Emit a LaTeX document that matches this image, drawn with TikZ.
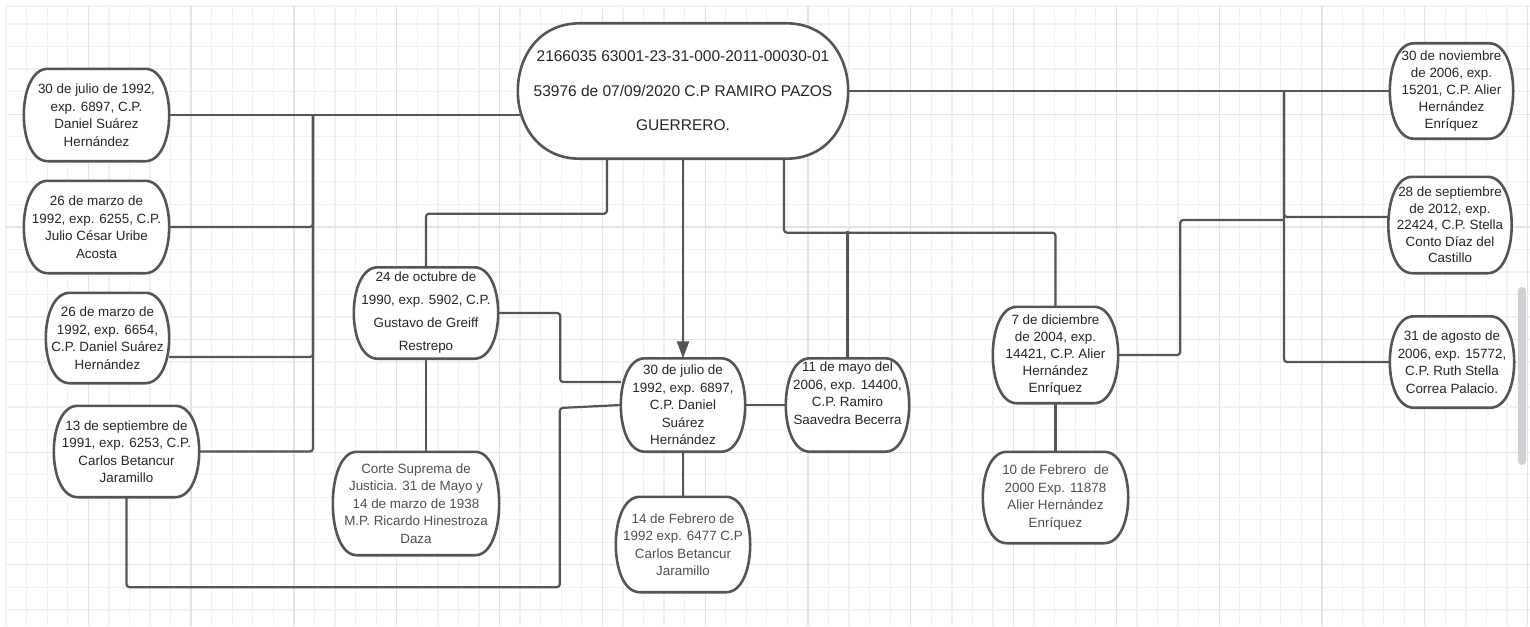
\documentclass[tikz,border=0pt]{standalone}
\usepackage{fontspec}
\setmainfont{Liberation Sans}
\usepackage{xcolor}
\usetikzlibrary{arrows.meta,calc}

\definecolor{inkline}{HTML}{555555}
\definecolor{inktext}{HTML}{262626}
\definecolor{inksoft}{HTML}{505050}
\definecolor{gridminor}{HTML}{F1F1F1}
\definecolor{gridmajor}{HTML}{E4E4E4}
\definecolor{scrollbar}{HTML}{CDD0D5}

\pgfdeclarelayer{grid}
\pgfdeclarelayer{edges}
\pgfdeclarelayer{cases}
\pgfsetlayers{grid,edges,cases,main}

% outline with half-elliptic ends: node name, end depth
\newcommand{\caseoutline}[2]{%
  \filldraw[outline] ($(#1.north west)+(#2,0)$) -- ($(#1.north east)+(-#2,0)$)
    .. controls ($(#1.north east)+(#2/3,0)$) and ($(#1.south east)+(#2/3,0)$) .. ($(#1.south east)+(-#2,0)$)
    -- ($(#1.south west)+(#2,0)$)
    .. controls ($(#1.south west)+(-#2/3,0)$) and ($(#1.north west)+(-#2/3,0)$) .. cycle;}

\begin{document}
\begin{tikzpicture}[x=1pt,y=-1pt,>={Triangle[length=17pt,width=12pt]},
  case/.style={inner sep=0pt,align=center,text=inktext,font=\fontsize{13.4}{17.5}\selectfont,minimum height=92pt},
  link/.style={draw=inkline,line width=2.2pt,rounded corners=3pt},
  outline/.style={fill=white,draw=inkline,line width=2.6pt},
  gridline/.style={draw=gridminor,line width=1.3pt}
]
  \useasboundingbox (0,0) rectangle (1530,626);

  \begin{pgfonlayer}{grid}
    \fill[white] (0,0) rectangle (1530,626);
    \foreach \i in {0,...,74}
      \draw[gridline] ({6.1+20.56*\i},6) -- ({6.1+20.56*\i},626);
    \foreach \j in {1,...,27}
      \draw[gridline] (6,{1.55+22.53*\j}) -- (1530,{1.55+22.53*\j});
    \draw[gridline] (6,6) -- (1530,6);
    \foreach \i in {4,9,...,74}
      \draw[gridline,draw=gridmajor] ({6.1+20.56*\i},6) -- ({6.1+20.56*\i},626);
    \foreach \j in {5,10,...,25}
      \draw[gridline,draw=gridmajor] (6,{1.55+22.53*\j}) -- (1530,{1.55+22.53*\j});
    \fill[scrollbar,rounded corners=4pt] (1518,287) rectangle (1526,465);
  \end{pgfonlayer}

  \node[case,font=\fontsize{15.5}{34.5}\selectfont,minimum width=330pt,minimum height=135pt] (main) at (683,91)
    {2166035 63001-23-31-000-2011-00030-01\\53976 de 07/09/2020 C.P RAMIRO PAZOS\\GUERRERO.};

  \node[case,minimum width=145pt] (n1) at (96.5,115) {30 de julio de 1992,\\exp. 6897, C.P.\\Daniel Suárez\\Hernández};
  \node[case,minimum width=145pt] (n2) at (96.5,227) {26 de marzo de\\1992, exp. 6255, C.P.\\Julio César Uribe\\Acosta};
  \node[case,minimum width=123pt,minimum height=90pt] (n3) at (107.5,338) {26 de marzo de\\1992, exp. 6654,\\C.P. Daniel Suárez\\Hernández};
  \node[case,minimum width=145pt,minimum height=91pt] (n4) at (126.5,451.5) {13 de septiembre de\\1991, exp. 6253, C.P.\\Carlos Betancur\\Jaramillo};

  \node[case,font=\fontsize{13.4}{23}\selectfont,minimum width=144pt,minimum height=91pt] (greiff) at (426,313) {24 de octubre de\\1990, exp. 5902, C.P.\\Gustavo de Greiff\\Restrepo};
  \node[case,text=inksoft,minimum width=166pt,minimum height=103pt] (corte) at (416,503.5) {Corte Suprema de\\Justicia. 31 de Mayo y\\14 de marzo de 1938\\M.P. Ricardo Hinestroza\\Daza};

  \node[case,minimum width=124pt,minimum height=93pt] (mid) at (683,405) {30 de julio de\\1992, exp. 6897,\\C.P. Daniel\\Suárez\\Hernández};
  \node[case,text=inksoft,minimum width=134pt,minimum height=95pt] (feb92) at (683,544.5) {14 de Febrero de\\1992 exp. 6477 C.P\\Carlos Betancur\\Jaramillo};
  \node[case,minimum width=123pt,minimum height=93pt] (mayo06) at (847.5,405) {11 de mayo del\\2006, exp. 14400,\\C.P. Ramiro\\Saavedra Becerra\\[6pt]};

  \node[case,font=\fontsize{13.4}{16.8}\selectfont,minimum width=125pt,minimum height=96pt] (dic04) at (1055.5,355) {7 de diciembre\\de 2004, exp.\\14421, C.P. Alier\\Hernández\\Enríquez};
  \node[case,text=inksoft,minimum width=145pt,minimum height=91pt] (feb00) at (1055.5,497.5) {10 de Febrero~ de\\2000 Exp. 11878\\Alier Hernández\\Enríquez};

  \node[case,font=\fontsize{13.4}{16.8}\selectfont,minimum width=123pt,minimum height=95pt] (nov06) at (1451.5,91) {30 de noviembre\\de 2006, exp.\\15201, C.P. Alier\\Hernández\\Enríquez};
  \node[case,font=\fontsize{13.4}{16.6}\selectfont,minimum width=123pt,minimum height=96pt] (sep12) at (1450,225) {28 de septiembre\\de 2012, exp.\\22424, C.P. Stella\\Conto Díaz del\\Castillo};
  \node[case,minimum width=124pt,minimum height=91pt] (ago06) at (1452,362) {31 de agosto de\\2006, exp. 15772,\\C.P. Ruth Stella\\Correa Palacio.};

  \begin{pgfonlayer}{cases}
    \foreach \n in {n1,n2,n3,n4,greiff,corte,mid,feb92,mayo06,dic04,feb00,nov06,sep12,ago06}
      {\caseoutline{\n}{24}}
    \caseoutline{main}{62}
  \end{pgfonlayer}

  \begin{pgfonlayer}{edges}
    \coordinate (busL) at (313,115);
    \coordinate (busR) at (1284,91);
    % left side
    \draw[link] (n1.east) -- ($(main.west|-n1.east)+(10,0)$);
    \draw[link] (n2.east) -| (busL);
    \draw[link] ($(n3.east)+(0,19)$) -| (busL);
    \draw[link] (n4.east) -| (busL);
    \draw[link] (n4.south) -- ++(0,90) -| ($(mid.west)+(-61,3)$) -- (mid.west);
    % centre
    \draw[link] ($(main.south)+(-76,0)$) -- ++(0,55) -| (greiff.north);
    \draw[link] (greiff.east) -- ++(62,0) |- ($(mid.west)+(0,-23)$);
    \draw[link] (greiff.south) -- (greiff.south|-corte.north);
    \draw[link,->] (main.south) -- (mid.north);
    \draw[link] (mid.south) -- (feb92.north);
    \draw[link] (mid.east) -- (mayo06.west);
    \draw[link] ($(main.south)+(101,0)$) -- ++(0,74) -| (dic04.north);
    \draw[link] (mayo06.north) -- ++(0,-127);
    \draw[link] (dic04.south) -- (feb00.north);
    % right side
    \draw[link] (main.east) -- (nov06.west);
    \draw[link] (busR) |- ($(sep12.west)+(0,-8)$);
    \draw[link] (busR) |- (ago06.west);
    \draw[link] (dic04.east) -- ++(62,0) |- ($(busR)+(0,129)$);
  \end{pgfonlayer}
\end{tikzpicture}
\end{document}
